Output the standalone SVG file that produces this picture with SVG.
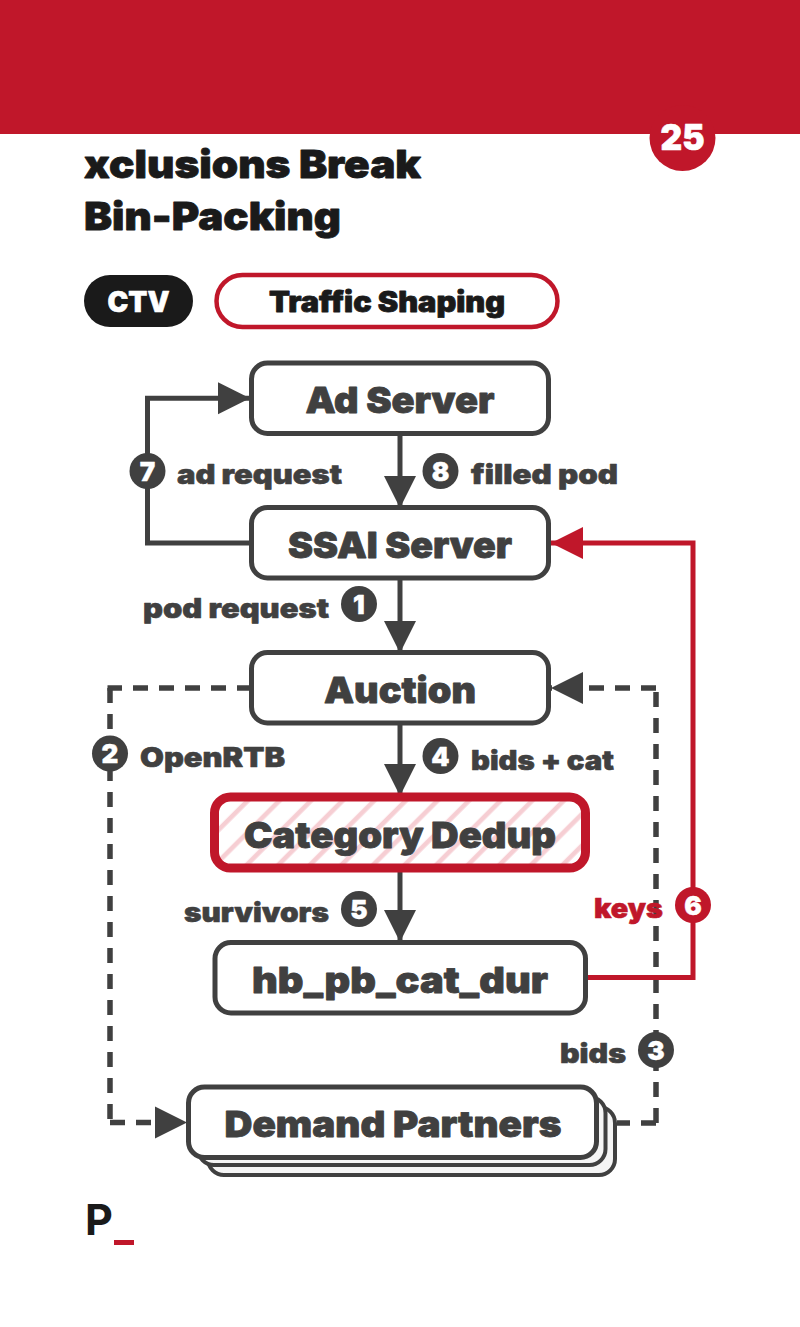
<svg xmlns="http://www.w3.org/2000/svg" width="800" height="1327" viewBox="0 0 800 1327">
<style>
text{font-family:"Inter","Liberation Sans",sans-serif;font-weight:900;stroke-linejoin:round}
.box{fill:#fff;stroke:#404040;stroke-width:5}
.stk{fill:#f5f5f5;stroke:#404040;stroke-width:4}
.nt{font-size:36px;fill:#404040;stroke:#404040;stroke-width:.8px;text-anchor:middle}
.lb{font-size:27px;fill:#404040;stroke:#404040;stroke-width:.6px}
.bn{font-size:26px;fill:#fff;stroke:#fff;stroke-width:.4px;text-anchor:middle}
.dk{fill:#1a1a1a;stroke:#1a1a1a;stroke-width:.8px}
.wt{fill:#fff;stroke:#fff;stroke-width:.6px}
.ln{fill:none;stroke:#404040;stroke-width:5}
.dash{stroke-width:5.500;stroke-dasharray:15 11}
.rd{stroke:#c0172a}
</style>
<defs>
<pattern id="hatch" width="22.340" height="22.340" patternUnits="userSpaceOnUse" patternTransform="rotate(45)">
<rect x="1.750" y="0" width="4.700" height="22.340" fill="#f6ced3"/>
</pattern>
<marker id="ah" markerUnits="userSpaceOnUse" markerWidth="34" markerHeight="34" refX="33" refY="17" orient="auto"><path d="M1 1L33 17L1 33Z" fill="#404040"/></marker>
<marker id="ar" markerUnits="userSpaceOnUse" markerWidth="34" markerHeight="34" refX="33" refY="17" orient="auto"><path d="M1 1L33 17L1 33Z" fill="#c0172a"/></marker>
</defs>
<rect id="banner" x="0" y="0" width="800" height="134" fill="#c0172a"/>
<g id="badge"><circle cx="682.500" cy="138" r="33" fill="#c0172a"/><text class="wt" x="682.500" y="150" font-size="35" text-anchor="middle" textLength="44" lengthAdjust="spacingAndGlyphs">25</text></g>
<g id="title"><text class="dk" x="84" y="178" font-size="39" textLength="337" lengthAdjust="spacingAndGlyphs">xclusions Break</text><text class="dk" x="84" y="230" font-size="39" textLength="257" lengthAdjust="spacingAndGlyphs">Bin-Packing</text></g>
<g id="tag-ctv"><rect x="84" y="275" width="109" height="52" rx="26" fill="#1a1a1a"/><text class="wt" x="138.500" y="312" font-size="28" text-anchor="middle" textLength="62" lengthAdjust="spacingAndGlyphs">CTV</text></g>
<g id="tag-traffic"><rect x="216.500" y="275" width="341" height="52" rx="26" fill="#fff" stroke="#c0172a" stroke-width="4.500"/><text class="dk" x="387" y="312" font-size="28" text-anchor="middle" textLength="236" lengthAdjust="spacingAndGlyphs">Traffic Shaping</text></g>
<g id="connectors">
<path class="ln" d="M400 434V508" marker-end="url(#ah)"/>
<path class="ln" d="M400 578V653" marker-end="url(#ah)"/>
<path class="ln" d="M400 723V796" marker-end="url(#ah)"/>
<path class="ln" d="M400 869V942" marker-end="url(#ah)"/>
<path class="ln" d="M252 543H147.500V398.300H250" marker-end="url(#ah)"/>
<path class="ln dash" d="M252 688H107.500"/>
<path class="ln dash" d="M110 688V1120"/>
<path class="ln dash" d="M110 1122.500H187" marker-end="url(#ah)"/>
<path class="ln dash" d="M656 1123H617"/>
<path class="ln dash" d="M656 1123V690"/>
<path class="ln dash" d="M656 688H551" marker-end="url(#ah)"/>
<path class="ln rd" d="M587 977.500H693V543H551" marker-end="url(#ar)"/>
</g>
<g id="ad-server"><rect class="box" x="251.500" y="363" width="297" height="70.500" rx="16"/><text class="nt" x="400" y="413" textLength="189" lengthAdjust="spacingAndGlyphs">Ad Server</text></g>
<g id="ssai-server"><rect class="box" x="251.500" y="507.500" width="297" height="70.500" rx="16"/><text class="nt" x="400" y="558" textLength="224" lengthAdjust="spacingAndGlyphs">SSAI Server</text></g>
<g id="auction"><rect class="box" x="251.500" y="652.500" width="297" height="70.500" rx="16"/><text class="nt" x="400" y="703" textLength="152" lengthAdjust="spacingAndGlyphs">Auction</text></g>
<g id="category-dedup"><rect x="214.500" y="797" width="371" height="71" rx="16" fill="#fff"/><rect x="214.500" y="797" width="371" height="71" rx="16" fill="url(#hatch)" stroke="#c0172a" stroke-width="9"/><text class="nt" x="400" y="848" textLength="312" lengthAdjust="spacingAndGlyphs">Category Dedup</text></g>
<g id="hb-pb-cat-dur"><rect class="box" x="215" y="942.500" width="370.500" height="70.500" rx="16"/><text class="nt" x="400" y="993" textLength="296" lengthAdjust="spacingAndGlyphs">hb_pb_cat_dur</text></g>
<g id="demand-partners"><rect class="stk" x="208" y="1107" width="407" height="68" rx="16"/><rect class="stk" x="198" y="1097" width="407.500" height="68" rx="16"/><rect class="box" x="188.500" y="1087" width="408" height="70.500" rx="16"/><text class="nt" x="393" y="1137" textLength="337" lengthAdjust="spacingAndGlyphs">Demand Partners</text></g>
<g id="label-7"><circle cx="147.500" cy="471" r="18" fill="#404040"/><text class="bn" x="147.500" y="480.500">7</text><text class="lb" x="177" y="484" textLength="165" lengthAdjust="spacingAndGlyphs">ad request</text></g>
<g id="label-8"><circle cx="440.500" cy="471" r="18" fill="#404040"/><text class="bn" x="440.500" y="480.500">8</text><text class="lb" x="471" y="484" textLength="147" lengthAdjust="spacingAndGlyphs">filled pod</text></g>
<g id="label-1"><circle cx="359" cy="604" r="18" fill="#404040"/><text class="bn" x="359" y="613.500">1</text><text class="lb" x="143" y="618" textLength="186" lengthAdjust="spacingAndGlyphs">pod request</text></g>
<g id="label-2"><circle cx="110" cy="753.500" r="18" fill="#404040"/><text class="bn" x="110" y="763">2</text><text class="lb" x="140" y="767" textLength="145" lengthAdjust="spacingAndGlyphs">OpenRTB</text></g>
<g id="label-4"><circle cx="440.500" cy="756" r="18" fill="#404040"/><text class="bn" x="440.500" y="765.500">4</text><text class="lb" x="471" y="770" textLength="143" lengthAdjust="spacingAndGlyphs">bids + cat</text></g>
<g id="label-5"><circle cx="359" cy="909" r="18" fill="#404040"/><text class="bn" x="359" y="918.500">5</text><text class="lb" x="184" y="922" textLength="145" lengthAdjust="spacingAndGlyphs">survivors</text></g>
<g id="label-6"><circle cx="693" cy="905" r="18" fill="#c0172a"/><text class="bn" x="693" y="914.500">6</text><text class="lb" x="594" y="918" style="fill:#c0172a;stroke:#c0172a" textLength="69" lengthAdjust="spacingAndGlyphs">keys</text></g>
<g id="label-3"><circle cx="656" cy="1050" r="18" fill="#404040"/><text class="bn" x="656" y="1059.500">3</text><text class="lb" x="560" y="1063" textLength="66" lengthAdjust="spacingAndGlyphs">bids</text></g>
<g id="logo"><text x="85" y="1235" font-size="43" fill="#1a1a1a" style="font-weight:700">P</text><rect x="114" y="1240" width="20" height="5" fill="#c0172a"/></g>
</svg>
